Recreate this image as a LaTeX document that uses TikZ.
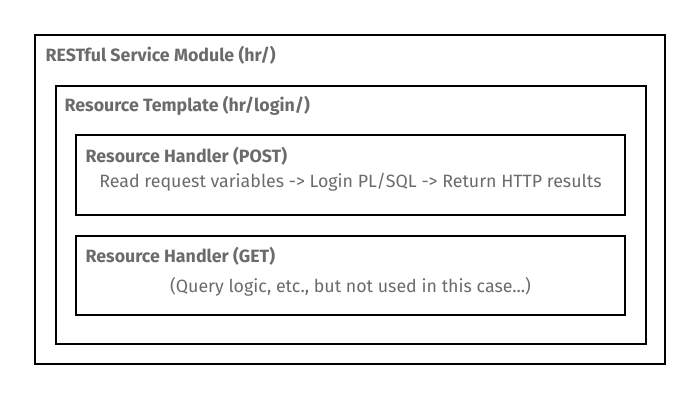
\documentclass[tikz,border=0pt]{standalone}
\usepackage{fontspec}
\setmainfont{Fira Sans}
\definecolor{txtgray}{HTML}{6B6B6B}

\tikzset{
    box/.style={rectangle,draw,line width=1.2pt,inner sep=0pt},
    title/.style={anchor=base west,inner sep=0pt,text=txtgray,font=\fontsize{17.8}{20}\selectfont\bfseries},
    body/.style={anchor=base,inner sep=0pt,text=txtgray,font=\fontsize{17.8}{20}\selectfont}
}

\begin{document}
\begin{tikzpicture}[x=1pt,y=-1pt]
            \useasboundingbox (0,0) rectangle (700,400);
            \node [box,minimum width=630pt,minimum height=329pt] (module) at (350,199.5) {};
            \node [box,minimum width=590pt,minimum height=258pt] (template) at (351,215) {};
            \node [box,minimum width=549pt,minimum height=80pt] (post) at (350.5,175) {};
            \node [box,minimum width=549pt,minimum height=79pt] (get) at (350.5,275.5) {};

            \node [title] (moduleT) at ([shift={(11,27)}]module.north west) {RESTful Service Module (hr/)};
            \node [title] (templateT) at ([shift={(9,26)}]template.north west) {Resource Template (hr/login/)};
            \node [title] (postT) at ([shift={(10,28)}]post.north west) {Resource Handler (POST)};
            \node [body] (postB) at ([shift={(0,53)}]post.north) {Read request variables -> Login PL/SQL -> Return HTTP results};
            \node [title] (getT) at ([shift={(10,27)}]get.north west) {Resource Handler (GET)};
            \node [body] (getB) at ([shift={(0,57)}]get.north) {(Query logic, etc., but not used in this case...)};
        \end{tikzpicture}
\end{document}
